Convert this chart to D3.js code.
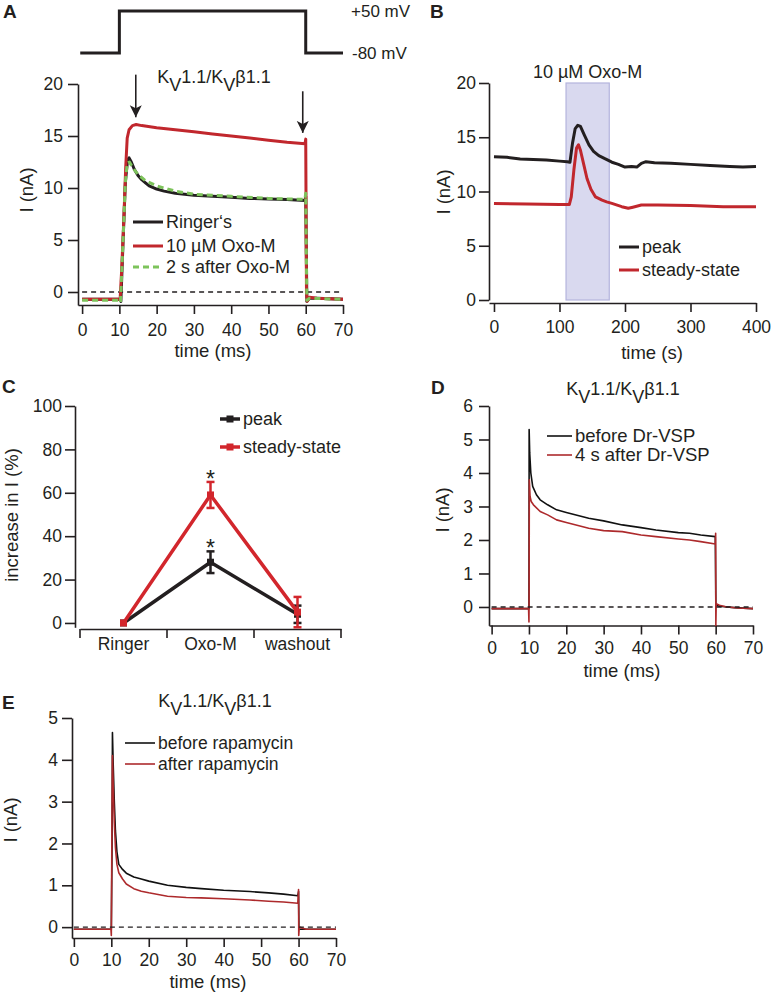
<!DOCTYPE html>
<html>
<head>
<meta charset="utf-8">
<script src="https://cdn.jsdelivr.net/npm/d3@7"></script>
<style>
body { margin: 0; background: #fff; }
text { font-family: "Liberation Sans", Arial, Helvetica, sans-serif; fill: #231f20; }
</style>
</head>
<body>
<div id="chart"></div>
<script>

// ---- panel A : voltage step and current traces (t in ms, I in nA)
var protoA = [[-0.5, -80], [10, -80], [10, 50], [60, 50], [60, -80], [70, -80]];
var ringerA = [[0, -0.7], [10.1, -0.7], [10.4, -0.9], [11, 5], [11.6, 10.5], [12.2, 12.7], [12.6, 12.9], [13.2, 12.5], [14, 11.8], [15, 11.2], [16, 10.8], [17, 10.5], [18, 10.2], [20, 9.9], [22, 9.7], [25, 9.5], [30, 9.3], [35, 9.2], [40, 9.1], [45, 9.0], [50, 8.95], [55, 8.9], [59.8, 8.8], [60, 9.2], [60.3, -0.9], [61, -0.6], [63, -0.6], [70, -0.7]];
var oxoA = [[0, -0.7], [10.2, -0.7], [10.6, 2], [11.2, 7], [11.7, 12], [12.1, 14.8], [12.6, 15.6], [13.5, 16.0], [14.5, 16.1], [16, 16.0], [20, 15.8], [25, 15.6], [30, 15.4], [35, 15.2], [40, 15.0], [45, 14.8], [50, 14.6], [55, 14.4], [59.8, 14.25], [60, 14.7], [60.2, 0], [60.4, -0.9], [61, -0.5], [63, -0.6], [70, -0.7]];
var afterA = [[0, -0.8], [10, -0.8], [10.3, -1.0], [11, 5], [11.6, 10.5], [12.1, 12.4], [12.7, 12.5], [13.5, 12], [15, 11.3], [17, 10.7], [20, 10.2], [25, 9.7], [30, 9.4], [40, 9.2], [50, 9.0], [59.8, 8.9], [60, 9.5], [60.3, -0.8], [61, -0.6], [70, -0.7]];
var arrowsA = [{t: 14.4, from: 20.9, to: 16.8}, {t: 59.2, from: 19.3, to: 15.3}];
var legendA = ["Ringer\u2018s", "10 \u00b5M Oxo-M", "2 s after Oxo-M"];

// ---- panel B : time course (t in s)
var peakB = [[0, 13.2], [20, 13.15], [40, 13.0], [60, 12.95], [80, 12.9], [100, 12.8], [112, 12.75], [116, 12.7], [120, 14.5], [124, 15.8], [128, 16.1], [132, 16.0], [138, 15.2], [145, 14.3], [152, 13.7], [160, 13.3], [170, 13.0], [180, 12.7], [190, 12.5], [200, 12.25], [210, 12.3], [218, 12.25], [225, 12.6], [232, 12.75], [245, 12.65], [270, 12.6], [300, 12.5], [330, 12.4], [360, 12.3], [380, 12.25], [400, 12.3]];
var steadyB = [[0, 8.9], [50, 8.85], [100, 8.8], [115, 8.8], [118, 9.5], [122, 12], [126, 14.0], [129, 14.3], [132, 13.8], [137, 12.5], [142, 11.2], [148, 10.2], [155, 9.5], [165, 9.2], [172, 9.05], [180, 8.9], [195, 8.6], [205, 8.45], [212, 8.55], [225, 8.75], [250, 8.75], [300, 8.7], [350, 8.6], [400, 8.6]];
var oxoWindowB = [110, 176];
var legendB = ["peak", "steady-state"];

// ---- panel C : summary (% increase)
var groupsC = ["Ringer", "Oxo-M", "washout"];
var peakMeanC = [0, 28, 4];
var peakErrC = [0, 5, 4];
var steadyMeanC = [0, 59, 5];
var steadyErrC = [0, 6, 7];

// ---- panel D : Dr-VSP
var beforeD = [[0, -0.05], [10, -0.05], [10.03, 2], [10.05, 5.3], [10.2, 4.6], [10.5, 4.0], [11, 3.6], [12, 3.35], [13, 3.2], [15, 3.05], [17.4, 2.9], [20, 2.82], [26, 2.65], [30, 2.57], [35, 2.45], [40, 2.37], [44, 2.3], [50, 2.22], [53, 2.2], [56, 2.15], [59.9, 2.1], [60.05, 0.05], [61, 0.02], [65, -0.02], [70, -0.05]];
var afterD = [[0, -0.05], [9.9, -0.05], [10, -0.45], [10.05, 0.5], [10.1, 3.8], [10.3, 3.3], [10.6, 3.15], [11.2, 3.05], [13, 2.85], [15, 2.75], [17.4, 2.6], [20, 2.52], [26, 2.35], [30, 2.28], [35, 2.25], [40, 2.15], [44, 2.1], [50, 2.03], [53, 2.0], [56, 1.95], [59.9, 1.88], [60, 2.2], [60.05, -0.55], [60.15, 0.1], [61, 0.05], [63, 0.0], [66, -0.03], [70, -0.05]];
var legendD = ["before Dr-VSP", "4 s after Dr-VSP"];

// ---- panel E : rapamycin
var beforeE = [[0, -0.05], [10, -0.05], [10.2, 2], [10.3, 4.65], [10.5, 3.9], [10.8, 3.0], [11.1, 2.3], [11.5, 1.8], [12, 1.5], [13, 1.38], [14, 1.29], [16, 1.2], [18, 1.15], [20, 1.1], [25, 1.0], [30, 0.95], [34, 0.92], [40, 0.88], [47, 0.85], [52, 0.82], [56, 0.79], [59.8, 0.75], [60, 0.85], [60.1, -0.05], [65, -0.05], [70, -0.05]];
var afterE = [[0, -0.05], [9.9, -0.05], [10, -0.2], [10.2, 3], [10.3, 4.1], [10.5, 3.4], [10.8, 2.5], [11.1, 1.9], [11.5, 1.5], [12, 1.3], [13, 1.15], [14, 1.03], [16, 0.92], [18, 0.86], [20, 0.82], [25, 0.74], [30, 0.71], [34, 0.7], [40, 0.68], [47, 0.65], [52, 0.62], [56, 0.6], [59.8, 0.57], [60, 0.9], [60.05, -0.2], [60.2, 0], [62, -0.05], [70, -0.05]];
var legendE = ["before rapamycin", "after rapamycin"];

var msTicks = d3.range(0, 71, 10);
var RED = "#c1272d", DARKRED = "#ad2a2c", GREEN = "#7dc35b";
var TICK_FS = "17.5px", LABEL_FS = "18.5px", LEG_FS = 18;

var svg = d3.select("#chart").append("svg")
  .attr("width", 771)
  .attr("height", 994);

svg.append("defs").append("marker")
  .attr("id", "arrow")
  .attr("markerUnits", "userSpaceOnUse")
  .attr("markerWidth", 12).attr("markerHeight", 14)
  .attr("viewBox", "0 0 12 14")
  .attr("refX", 12).attr("refY", 7)
  .attr("orient", "auto")
  .append("path").attr("d", "M0,1 L12,7 L0,13 L3,7 z").attr("fill", "#231f20");

function styleAxis(g) {
  g.attr("font-family", null).attr("font-size", null);
  g.selectAll("path, line").attr("stroke", "#231f20").attr("stroke-width", 1.6);
  g.selectAll("text").style("font-size", TICK_FS).attr("fill", "#231f20");
}

// draws left + bottom axes, Igor style (ticks outward)
function drawAxes(x, y, opt) {
  var gy = svg.append("g")
    .attr("transform", "translate(" + opt.ax + ",0)")
    .call(d3.axisLeft(y).tickValues(opt.yTicks).tickFormat(d3.format("d"))
      .tickSize(10).tickSizeOuter(0).tickPadding(opt.yPad));
  var gx = svg.append("g")
    .attr("transform", "translate(0," + opt.ay + ")")
    .call(d3.axisBottom(x).tickValues(opt.xTicks).tickFormat(d3.format("d"))
      .tickSize(9).tickSizeOuter(0).tickPadding(opt.xPad));
  styleAxis(gy);
  styleAxis(gx);
  svg.append("text").attr("x", opt.xLabelPos[0]).attr("y", opt.xLabelPos[1])
    .attr("text-anchor", "middle").attr("dy", "0.35em").style("font-size", LABEL_FS).text(opt.xLabel);
  svg.append("text")
    .attr("transform", "translate(" + opt.yLabelPos[0] + "," + opt.yLabelPos[1] + ") rotate(-90)")
    .attr("text-anchor", "middle").attr("dy", "0.35em").style("font-size", LABEL_FS).text(opt.yLabel);
}

function trace(x, y, data, color, width, dash) {
  var line = d3.line().x(d => x(d[0])).y(d => y(d[1]));
  return svg.append("path")
    .datum(data)
    .attr("d", line)
    .attr("fill", "none")
    .attr("stroke", color)
    .attr("stroke-width", width)
    .attr("stroke-linejoin", "round")
    .attr("stroke-dasharray", dash || null);
}

function zeroLine(x, y, x0, x1) {
  svg.append("line")
    .attr("x1", x(x0)).attr("x2", x(x1))
    .attr("y1", y(0)).attr("y2", y(0))
    .attr("stroke", "#231f20").attr("stroke-width", 1.3).attr("stroke-dasharray", "5,4");
}

function legend(x0, x1, ys, labels, colors, width, dashes, size) {
  labels.forEach(function(lab, i) {
    svg.append("line").attr("x1", x0).attr("x2", x1).attr("y1", ys[i]).attr("y2", ys[i])
      .attr("stroke", colors[i]).attr("stroke-width", width)
      .attr("stroke-dasharray", dashes ? dashes[i] : null);
    svg.append("text").attr("x", x1 + 3).attr("y", ys[i]).attr("dy", "0.35em")
      .style("font-size", (size || LEG_FS) + "px").text(lab);
  });
}

function kvTitle(cx, base) {
  var t = svg.append("text").attr("x", cx).attr("y", base).attr("text-anchor", "middle").style("font-size", "18px");
  t.append("tspan").text("K");
  t.append("tspan").attr("dy", 8).text("V");
  t.append("tspan").attr("dy", -8).text("1.1/K");
  t.append("tspan").attr("dy", 8).text("V");
  t.append("tspan").attr("dy", -8).text("\u03b21.1");
}

function panelLetter(l, x, y) {
  svg.append("text").attr("x", x).attr("y", y).style("font-size", "19px").style("font-weight", "bold").text(l);
}

// ================= A =================
var xA = d3.scaleLinear().domain([-1.1, 70]).range([78, 343]);
var yA = d3.scaleLinear().domain([-1.25, 20]).range([305, 84]);
var vA = d3.scaleLinear().domain([-80, 50]).range([53, 11]);

panelLetter("A", 3, 18);
trace(xA, vA, protoA, "#231f20", 3).attr("stroke-linejoin", "miter");
svg.append("text").attr("x", 351).attr("y", 11).attr("dy", "0.35em").style("font-size", "17px").text("+50 mV");
svg.append("text").attr("x", 352).attr("y", 53).attr("dy", "0.35em").style("font-size", "17px").text("-80 mV");
kvTitle(214, 83);

drawAxes(xA, yA, {
  ax: 78, ay: 305, yTicks: [0, 5, 10, 15, 20], xTicks: msTicks, yPad: 5, xPad: 10,
  xLabel: "time (ms)", xLabelPos: [213, 351], yLabel: "I (nA)", yLabelPos: [27, 190]
});
zeroLine(xA, yA, 0, 70);
trace(xA, yA, ringerA, "#231f20", 3);
trace(xA, yA, oxoA, RED, 3);
trace(xA, yA, afterA, GREEN, 3, "6,4");

arrowsA.forEach(function(a) {
  svg.append("line")
    .attr("x1", xA(a.t)).attr("x2", xA(a.t))
    .attr("y1", yA(a.from)).attr("y2", yA(a.to))
    .attr("stroke", "#231f20").attr("stroke-width", 1.6)
    .attr("marker-end", "url(#arrow)");
});

legend(133, 163, [222, 246, 267], legendA, ["#231f20", RED, GREEN], 3, [null, null, "6,4"]);

// ================= B =================
var xB = d3.scaleLinear().domain([-7.6, 400]).range([489, 756]);
var yB = d3.scaleLinear().domain([0, 20]).range([300, 83]);

panelLetter("B", 430, 18);
svg.append("rect")
  .attr("x", xB(oxoWindowB[0])).attr("width", xB(oxoWindowB[1]) - xB(oxoWindowB[0]))
  .attr("y", yB(20)).attr("height", yB(0) - yB(20))
  .attr("fill", "#d9d9ef").attr("stroke", "#b4b4dd").attr("stroke-width", 1.2);
svg.append("text").attr("x", xB(d3.mean(oxoWindowB))).attr("y", 72).attr("dy", "0.35em")
  .attr("text-anchor", "middle").style("font-size", "18px").text("10 \u00b5M Oxo-M");

drawAxes(xB, yB, {
  ax: 489, ay: 303, yTicks: [0, 5, 10, 15, 20], xTicks: [0, 100, 200, 300, 400], yPad: 3, xPad: 9,
  xLabel: "time (s)", xLabelPos: [652, 353], yLabel: "I (nA)", yLabelPos: [444, 192]
});
trace(xB, yB, peakB, "#231f20", 3);
trace(xB, yB, steadyB, RED, 3);
legend(619, 639, [247, 270], legendB, ["#231f20", RED], 3);

// ================= C =================
var xC = d3.scaleBand().domain(groupsC).range([80, 341]);
var yC = d3.scaleLinear().domain([-2, 100]).range([627.3, 406]);

panelLetter("C", 2, 393);
var gyC = svg.append("g").attr("transform", "translate(75,0)")
  .call(d3.axisLeft(yC).tickValues([0, 20, 40, 60, 80, 100]).tickSize(10).tickSizeOuter(0).tickPadding(3));
var gxC = svg.append("g").attr("transform", "translate(0,629)")
  .call(d3.axisBottom(xC).tickSize(0).tickSizeOuter(0).tickPadding(9));
gxC.selectAll(".bound")
  .data(d3.range(groupsC.length + 1))
  .enter().append("line")
  .attr("class", "bound")
  .attr("x1", d => xC.range()[0] + d * xC.step()).attr("x2", d => xC.range()[0] + d * xC.step())
  .attr("y1", 0).attr("y2", 9);
styleAxis(gyC);
styleAxis(gxC);
svg.append("text")
  .attr("transform", "translate(12,515) rotate(-90)")
  .attr("text-anchor", "middle").attr("dy", "0.35em").style("font-size", LABEL_FS).text("increase in I (%)");

var cx = d => xC(d) + xC.bandwidth() / 2;
function seriesC(means, errs, color) {
  var pts = groupsC.map((g, i) => ({g: g, m: means[i], e: errs[i]}));
  svg.append("path").datum(pts)
    .attr("d", d3.line().x(d => cx(d.g)).y(d => yC(d.m)))
    .attr("fill", "none").attr("stroke", color).attr("stroke-width", 3.5).attr("stroke-linejoin", "round");
  var eb = svg.selectAll(null).data(pts.filter(d => d.e > 0)).enter().append("g").attr("stroke", color).attr("stroke-width", 2.5);
  eb.append("line").attr("x1", d => cx(d.g)).attr("x2", d => cx(d.g)).attr("y1", d => yC(d.m - d.e)).attr("y2", d => yC(d.m + d.e));
  eb.append("line").attr("x1", d => cx(d.g) - 4).attr("x2", d => cx(d.g) + 4).attr("y1", d => yC(d.m + d.e)).attr("y2", d => yC(d.m + d.e));
  eb.append("line").attr("x1", d => cx(d.g) - 4).attr("x2", d => cx(d.g) + 4).attr("y1", d => yC(d.m - d.e)).attr("y2", d => yC(d.m - d.e));
  svg.selectAll(null).data(pts).enter().append("rect")
    .attr("x", d => cx(d.g) - 3.5).attr("y", d => yC(d.m) - 3.5)
    .attr("width", 7).attr("height", 7).attr("fill", color);
}
seriesC(peakMeanC, peakErrC, "#231f20");
seriesC(steadyMeanC, steadyErrC, "#d2262c");

// asterisks over the Oxo-M points
[peakMeanC[1] + peakErrC[1], steadyMeanC[1] + steadyErrC[1]].forEach(function(v) {
  svg.append("text").attr("x", cx("Oxo-M")).attr("y", yC(v) + 5)
    .attr("text-anchor", "middle").style("font-size", "23px").text("*");
});

legend(220, 240, [419, 447], legendB, ["#231f20", "#d2262c"], 3.5);
[419, 447].forEach(function(yy, i) {
  svg.append("rect").attr("x", 226.5).attr("y", yy - 3.5).attr("width", 7).attr("height", 7)
    .attr("fill", i ? "#d2262c" : "#231f20");
});

// ================= D =================
var xD = d3.scaleLinear().domain([-0.7, 70]).range([489, 753]);
var yD = d3.scaleLinear().domain([-0.55, 6]).range([625.4, 406]);

panelLetter("D", 431, 394);
kvTitle(623, 395);
drawAxes(xD, yD, {
  ax: 489, ay: 625.5, yTicks: [0, 1, 2, 3, 4, 5, 6], xTicks: msTicks, yPad: 6, xPad: 7,
  xLabel: "time (ms)", xLabelPos: [622, 671], yLabel: "I (nA)", yLabelPos: [443, 510]
});
trace(xD, yD, beforeD, "#111", 1.6);
trace(xD, yD, afterD, DARKRED, 1.6);
zeroLine(xD, yD, 0, 70);
legend(547, 572, [436, 455], legendD, ["#111", DARKRED], 1.6, null, 18.5);

// ================= E =================
var xE = d3.scaleLinear().domain([-0.5, 70]).range([72, 336]);
var yE = d3.scaleLinear().domain([-0.26, 5]).range([938, 718]);

panelLetter("E", 2, 709);
kvTitle(215, 707);
drawAxes(xE, yE, {
  ax: 72, ay: 938, yTicks: [0, 1, 2, 3, 4, 5], xTicks: msTicks, yPad: 4, xPad: 7,
  xLabel: "time (ms)", xLabelPos: [208, 982], yLabel: "I (nA)", yLabelPos: [11, 820]
});
trace(xE, yE, beforeE, "#111", 1.6);
trace(xE, yE, afterE, DARKRED, 1.6);
zeroLine(xE, yE, 0, 70);
legend(125, 155, [743, 764], legendE, ["#111", DARKRED], 1.6, null, 17.5);

</script>
</body>
</html>
